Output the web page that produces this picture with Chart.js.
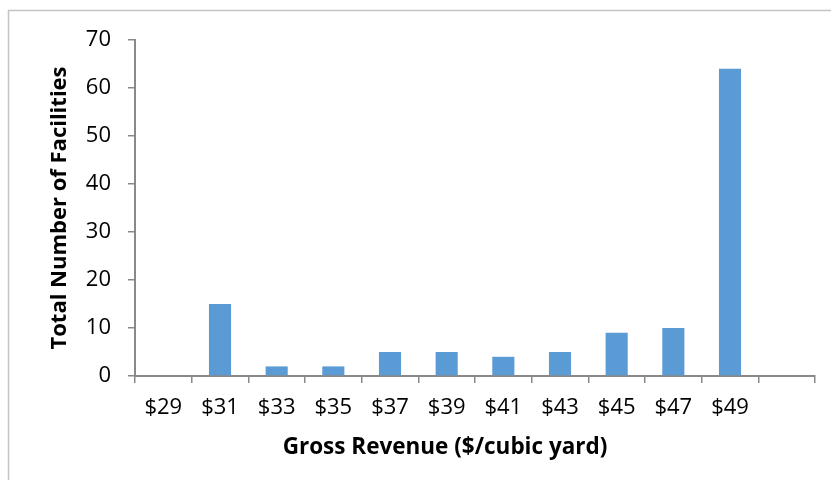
<!DOCTYPE html>
<html>
<head>
<meta charset="utf-8">
<script src="https://cdn.jsdelivr.net/npm/chart.js@4.4.1/dist/chart.umd.min.js"></script>
<style>
  html, body { margin: 0; padding: 0; background: #fff; }
  #wrap { width: 831px; height: 480px; position: relative; }
</style>
</head>
<body>
<div id="wrap"><canvas id="chart"></canvas></div>
<script>
// Gross revenue buckets and facility counts
const priceLabels = ['$29', '$31', '$33', '$35', '$37', '$39', '$41', '$43', '$45', '$47', '$49', ''];
const facilityCounts = [0, 15, 2, 2, 5, 5, 4, 5, 9, 10, 64, null];
const yTicks = [0, 10, 20, 30, 40, 50, 60, 70];
const xTitle = 'Gross Revenue ($/cubic yard)';

const axisGray = '#898989';

// light frame around the whole chart (like the Excel chart border)
const framePlugin = {
    id: 'frame',
    beforeDraw(chart) {
        const ctx = chart.ctx;
        ctx.save();
        ctx.strokeStyle = '#c4c4c4';
        ctx.lineWidth = 1.5;
        ctx.beginPath();
        ctx.moveTo(8.5, chart.height + 5);
        ctx.lineTo(8.5, 10.5);
        ctx.lineTo(chart.width + 5, 10.5);
        ctx.stroke();
        ctx.restore();
    }
};

// x axis title, centred on the chart box rather than on the plot area
const xTitlePlugin = {
    id: 'xTitle',
    afterDraw(chart) {
        const ctx = chart.ctx;
        ctx.save();
        ctx.font = 'bold 22.5px "Open Sans"';
        ctx.fillStyle = '#000';
        ctx.textAlign = 'center';
        ctx.textBaseline = 'middle';
        ctx.fillText(xTitle, 445, 448);
        ctx.restore();
    }
};

new Chart(document.getElementById('chart'), {
    type: 'bar',
    data: {
        labels: priceLabels,
        datasets: [{
            label: 'Total Number of Facilities',
            data: facilityCounts,
            backgroundColor: '#5b9bd5',
            barPercentage: 1,
            categoryPercentage: 0.39,
        }]
    },
    options: {
        responsive: true,
        maintainAspectRatio: false,
        animation: false,
        layout: { padding: { left: 40, right: 16, top: 40, bottom: 0 } },
        plugins: {
            legend: { display: false },
            tooltip: { enabled: false },
        },
        scales: {
            x: {
                grid: {
                    drawOnChartArea: false,
                    drawTicks: true,
                    tickLength: 7,
                    color: axisGray,
                    lineWidth: 1.5,
                    offset: true,
                },
                border: { color: axisGray, width: 2 },
                ticks: {
                    color: '#000',
                    padding: 12,
                    maxRotation: 0,
                    autoSkip: false,
                    font: { family: 'Open Sans', size: 22 },
                },
                afterFit: (scale) => { scale.height = 104; },
            },
            y: {
                min: 0,
                max: 70,
                afterBuildTicks: (scale) => { scale.ticks = yTicks.map(v => ({ value: v })); },
                grid: {
                    drawOnChartArea: false,
                    drawTicks: true,
                    tickLength: 7,
                    color: axisGray,
                    lineWidth: 1.5,
                },
                border: { color: axisGray, width: 2 },
                ticks: {
                    color: '#000',
                    padding: 17,
                    font: { family: 'Open Sans', size: 22 },
                },
                title: {
                    display: true,
                    text: 'Total Number of Facilities',
                    color: '#000',
                    padding: { top: 7, bottom: 0 },
                    font: { family: 'Open Sans', size: 22, weight: 'bold' },
                },
                afterFit: (scale) => { scale.width = 95; },
            }
        }
    },
    plugins: [framePlugin, xTitlePlugin]
});
</script>
</body>
</html>
